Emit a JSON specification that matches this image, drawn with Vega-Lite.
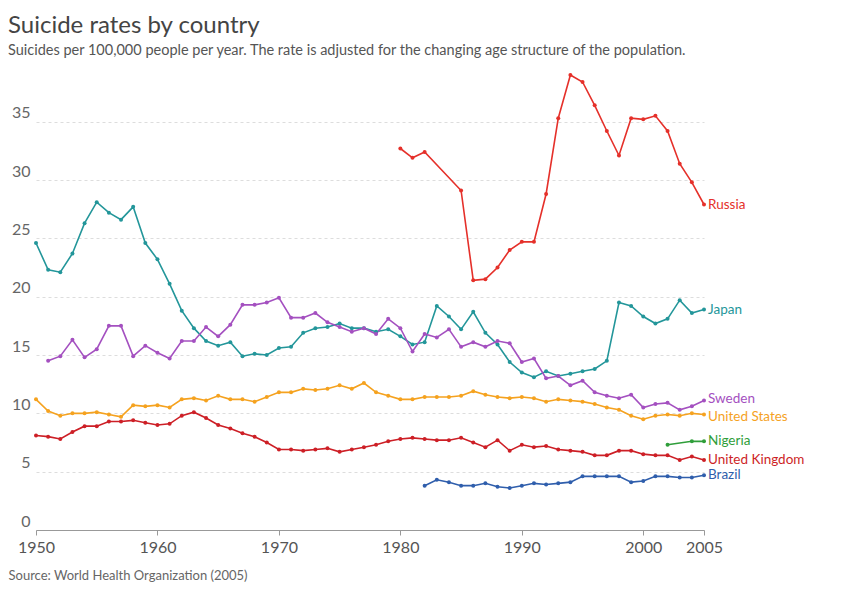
{
"$schema":"https://vega.github.io/schema/vega-lite/v6.json",
"width":668,"height":455,
"padding":{"left":8,"top":14,"right":10,"bottom":2},
"background":"white",
"config":{"font":"Lato","view":{"stroke":null}},
"title":{"text":"Suicide rates by country","subtitle":"Suicides per 100,000 people per year. The rate is adjusted for the changing age structure of the population.","anchor":"start","frame":"group","offset":14,"fontSize":24,"fontWeight":"normal","color":"#444","subtitleFontSize":14.5,"subtitleColor":"#555","subtitlePadding":6,"font":"Lato","subtitleFont":"Lato","dx":-28},
"data":{"values":[
{"c":"Japan","y":1950,"v":24.6},{"c":"Japan","y":1951,"v":22.3},{"c":"Japan","y":1952,"v":22.1},{"c":"Japan","y":1953,"v":23.7},{"c":"Japan","y":1954,"v":26.3},{"c":"Japan","y":1955,"v":28.1},{"c":"Japan","y":1956,"v":27.2},{"c":"Japan","y":1957,"v":26.6},{"c":"Japan","y":1958,"v":27.7},{"c":"Japan","y":1959,"v":24.6},{"c":"Japan","y":1960,"v":23.2},{"c":"Japan","y":1961,"v":21.1},{"c":"Japan","y":1962,"v":18.8},{"c":"Japan","y":1963,"v":17.3},{"c":"Japan","y":1964,"v":16.2},{"c":"Japan","y":1965,"v":15.8},{"c":"Japan","y":1966,"v":16.1},{"c":"Japan","y":1967,"v":14.9},{"c":"Japan","y":1968,"v":15.1},{"c":"Japan","y":1969,"v":15.0},{"c":"Japan","y":1970,"v":15.6},{"c":"Japan","y":1971,"v":15.7},{"c":"Japan","y":1972,"v":16.9},{"c":"Japan","y":1973,"v":17.3},{"c":"Japan","y":1974,"v":17.4},{"c":"Japan","y":1975,"v":17.7},{"c":"Japan","y":1976,"v":17.3},{"c":"Japan","y":1977,"v":17.3},{"c":"Japan","y":1978,"v":17.0},{"c":"Japan","y":1979,"v":17.2},{"c":"Japan","y":1980,"v":16.6},{"c":"Japan","y":1981,"v":15.9},{"c":"Japan","y":1982,"v":16.1},{"c":"Japan","y":1983,"v":19.2},{"c":"Japan","y":1984,"v":18.3},{"c":"Japan","y":1985,"v":17.2},{"c":"Japan","y":1986,"v":18.7},{"c":"Japan","y":1987,"v":16.9},{"c":"Japan","y":1988,"v":15.9},{"c":"Japan","y":1989,"v":14.4},{"c":"Japan","y":1990,"v":13.5},{"c":"Japan","y":1991,"v":13.1},{"c":"Japan","y":1992,"v":13.6},{"c":"Japan","y":1993,"v":13.2},{"c":"Japan","y":1994,"v":13.4},{"c":"Japan","y":1995,"v":13.6},{"c":"Japan","y":1996,"v":13.8},{"c":"Japan","y":1997,"v":14.5},{"c":"Japan","y":1998,"v":19.5},{"c":"Japan","y":1999,"v":19.2},{"c":"Japan","y":2000,"v":18.3},{"c":"Japan","y":2001,"v":17.7},{"c":"Japan","y":2002,"v":18.1},{"c":"Japan","y":2003,"v":19.7},{"c":"Japan","y":2004,"v":18.6},{"c":"Japan","y":2005,"v":18.9},
{"c":"Russia","y":1980,"v":32.7},{"c":"Russia","y":1981,"v":31.9},{"c":"Russia","y":1982,"v":32.4},{"c":"Russia","y":1985,"v":29.1},{"c":"Russia","y":1986,"v":21.4},{"c":"Russia","y":1987,"v":21.5},{"c":"Russia","y":1988,"v":22.5},{"c":"Russia","y":1989,"v":24.0},{"c":"Russia","y":1990,"v":24.7},{"c":"Russia","y":1991,"v":24.7},{"c":"Russia","y":1992,"v":28.8},{"c":"Russia","y":1993,"v":35.3},{"c":"Russia","y":1994,"v":39.0},{"c":"Russia","y":1995,"v":38.4},{"c":"Russia","y":1996,"v":36.4},{"c":"Russia","y":1997,"v":34.2},{"c":"Russia","y":1998,"v":32.1},{"c":"Russia","y":1999,"v":35.3},{"c":"Russia","y":2000,"v":35.2},{"c":"Russia","y":2001,"v":35.5},{"c":"Russia","y":2002,"v":34.2},{"c":"Russia","y":2003,"v":31.4},{"c":"Russia","y":2004,"v":29.8},{"c":"Russia","y":2005,"v":27.9},
{"c":"Sweden","y":1951,"v":14.5},{"c":"Sweden","y":1952,"v":14.9},{"c":"Sweden","y":1953,"v":16.3},{"c":"Sweden","y":1954,"v":14.8},{"c":"Sweden","y":1955,"v":15.5},{"c":"Sweden","y":1956,"v":17.5},{"c":"Sweden","y":1957,"v":17.5},{"c":"Sweden","y":1958,"v":14.9},{"c":"Sweden","y":1959,"v":15.8},{"c":"Sweden","y":1960,"v":15.2},{"c":"Sweden","y":1961,"v":14.7},{"c":"Sweden","y":1962,"v":16.2},{"c":"Sweden","y":1963,"v":16.2},{"c":"Sweden","y":1964,"v":17.4},{"c":"Sweden","y":1965,"v":16.6},{"c":"Sweden","y":1966,"v":17.6},{"c":"Sweden","y":1967,"v":19.3},{"c":"Sweden","y":1968,"v":19.3},{"c":"Sweden","y":1969,"v":19.5},{"c":"Sweden","y":1970,"v":19.9},{"c":"Sweden","y":1971,"v":18.2},{"c":"Sweden","y":1972,"v":18.2},{"c":"Sweden","y":1973,"v":18.6},{"c":"Sweden","y":1974,"v":17.8},{"c":"Sweden","y":1975,"v":17.4},{"c":"Sweden","y":1976,"v":17.0},{"c":"Sweden","y":1977,"v":17.3},{"c":"Sweden","y":1978,"v":16.8},{"c":"Sweden","y":1979,"v":18.1},{"c":"Sweden","y":1980,"v":17.3},{"c":"Sweden","y":1981,"v":15.3},{"c":"Sweden","y":1982,"v":16.8},{"c":"Sweden","y":1983,"v":16.5},{"c":"Sweden","y":1984,"v":17.2},{"c":"Sweden","y":1985,"v":15.7},{"c":"Sweden","y":1986,"v":16.1},{"c":"Sweden","y":1987,"v":15.7},{"c":"Sweden","y":1988,"v":16.2},{"c":"Sweden","y":1989,"v":16.0},{"c":"Sweden","y":1990,"v":14.4},{"c":"Sweden","y":1991,"v":14.7},{"c":"Sweden","y":1992,"v":13.0},{"c":"Sweden","y":1993,"v":13.2},{"c":"Sweden","y":1994,"v":12.4},{"c":"Sweden","y":1995,"v":12.8},{"c":"Sweden","y":1996,"v":11.8},{"c":"Sweden","y":1997,"v":11.5},{"c":"Sweden","y":1998,"v":11.3},{"c":"Sweden","y":1999,"v":11.6},{"c":"Sweden","y":2000,"v":10.5},{"c":"Sweden","y":2001,"v":10.8},{"c":"Sweden","y":2002,"v":10.9},{"c":"Sweden","y":2003,"v":10.3},{"c":"Sweden","y":2004,"v":10.6},{"c":"Sweden","y":2005,"v":11.1},
{"c":"United States","y":1950,"v":11.2},{"c":"United States","y":1951,"v":10.2},{"c":"United States","y":1952,"v":9.8},{"c":"United States","y":1953,"v":10.0},{"c":"United States","y":1954,"v":10.0},{"c":"United States","y":1955,"v":10.1},{"c":"United States","y":1956,"v":9.9},{"c":"United States","y":1957,"v":9.7},{"c":"United States","y":1958,"v":10.7},{"c":"United States","y":1959,"v":10.6},{"c":"United States","y":1960,"v":10.7},{"c":"United States","y":1961,"v":10.5},{"c":"United States","y":1962,"v":11.2},{"c":"United States","y":1963,"v":11.3},{"c":"United States","y":1964,"v":11.1},{"c":"United States","y":1965,"v":11.5},{"c":"United States","y":1966,"v":11.2},{"c":"United States","y":1967,"v":11.2},{"c":"United States","y":1968,"v":11.0},{"c":"United States","y":1969,"v":11.4},{"c":"United States","y":1970,"v":11.8},{"c":"United States","y":1971,"v":11.8},{"c":"United States","y":1972,"v":12.1},{"c":"United States","y":1973,"v":12.0},{"c":"United States","y":1974,"v":12.1},{"c":"United States","y":1975,"v":12.4},{"c":"United States","y":1976,"v":12.1},{"c":"United States","y":1977,"v":12.6},{"c":"United States","y":1978,"v":11.8},{"c":"United States","y":1979,"v":11.5},{"c":"United States","y":1980,"v":11.2},{"c":"United States","y":1981,"v":11.2},{"c":"United States","y":1982,"v":11.4},{"c":"United States","y":1983,"v":11.4},{"c":"United States","y":1984,"v":11.4},{"c":"United States","y":1985,"v":11.5},{"c":"United States","y":1986,"v":11.9},{"c":"United States","y":1987,"v":11.6},{"c":"United States","y":1988,"v":11.4},{"c":"United States","y":1989,"v":11.3},{"c":"United States","y":1990,"v":11.4},{"c":"United States","y":1991,"v":11.3},{"c":"United States","y":1992,"v":11.0},{"c":"United States","y":1993,"v":11.2},{"c":"United States","y":1994,"v":11.1},{"c":"United States","y":1995,"v":11.0},{"c":"United States","y":1996,"v":10.8},{"c":"United States","y":1997,"v":10.5},{"c":"United States","y":1998,"v":10.3},{"c":"United States","y":1999,"v":9.8},{"c":"United States","y":2000,"v":9.5},{"c":"United States","y":2001,"v":9.8},{"c":"United States","y":2002,"v":9.9},{"c":"United States","y":2003,"v":9.8},{"c":"United States","y":2004,"v":10.0},{"c":"United States","y":2005,"v":9.9},
{"c":"United Kingdom","y":1950,"v":8.1},{"c":"United Kingdom","y":1951,"v":8.0},{"c":"United Kingdom","y":1952,"v":7.8},{"c":"United Kingdom","y":1953,"v":8.4},{"c":"United Kingdom","y":1954,"v":8.9},{"c":"United Kingdom","y":1955,"v":8.9},{"c":"United Kingdom","y":1956,"v":9.3},{"c":"United Kingdom","y":1957,"v":9.3},{"c":"United Kingdom","y":1958,"v":9.4},{"c":"United Kingdom","y":1959,"v":9.2},{"c":"United Kingdom","y":1960,"v":9.0},{"c":"United Kingdom","y":1961,"v":9.1},{"c":"United Kingdom","y":1962,"v":9.8},{"c":"United Kingdom","y":1963,"v":10.1},{"c":"United Kingdom","y":1964,"v":9.6},{"c":"United Kingdom","y":1965,"v":9.0},{"c":"United Kingdom","y":1966,"v":8.7},{"c":"United Kingdom","y":1967,"v":8.3},{"c":"United Kingdom","y":1968,"v":8.0},{"c":"United Kingdom","y":1969,"v":7.5},{"c":"United Kingdom","y":1970,"v":6.9},{"c":"United Kingdom","y":1971,"v":6.9},{"c":"United Kingdom","y":1972,"v":6.8},{"c":"United Kingdom","y":1973,"v":6.9},{"c":"United Kingdom","y":1974,"v":7.0},{"c":"United Kingdom","y":1975,"v":6.7},{"c":"United Kingdom","y":1976,"v":6.9},{"c":"United Kingdom","y":1977,"v":7.1},{"c":"United Kingdom","y":1978,"v":7.3},{"c":"United Kingdom","y":1979,"v":7.6},{"c":"United Kingdom","y":1980,"v":7.8},{"c":"United Kingdom","y":1981,"v":7.9},{"c":"United Kingdom","y":1982,"v":7.8},{"c":"United Kingdom","y":1983,"v":7.7},{"c":"United Kingdom","y":1984,"v":7.7},{"c":"United Kingdom","y":1985,"v":7.9},{"c":"United Kingdom","y":1986,"v":7.5},{"c":"United Kingdom","y":1987,"v":7.1},{"c":"United Kingdom","y":1988,"v":7.7},{"c":"United Kingdom","y":1989,"v":6.8},{"c":"United Kingdom","y":1990,"v":7.3},{"c":"United Kingdom","y":1991,"v":7.1},{"c":"United Kingdom","y":1992,"v":7.2},{"c":"United Kingdom","y":1993,"v":6.9},{"c":"United Kingdom","y":1994,"v":6.8},{"c":"United Kingdom","y":1995,"v":6.7},{"c":"United Kingdom","y":1996,"v":6.4},{"c":"United Kingdom","y":1997,"v":6.4},{"c":"United Kingdom","y":1998,"v":6.8},{"c":"United Kingdom","y":1999,"v":6.8},{"c":"United Kingdom","y":2000,"v":6.5},{"c":"United Kingdom","y":2001,"v":6.4},{"c":"United Kingdom","y":2002,"v":6.4},{"c":"United Kingdom","y":2003,"v":6.0},{"c":"United Kingdom","y":2004,"v":6.3},{"c":"United Kingdom","y":2005,"v":6.0},
{"c":"Nigeria","y":2002,"v":7.3},{"c":"Nigeria","y":2004,"v":7.6},{"c":"Nigeria","y":2005,"v":7.6},
{"c":"Brazil","y":1982,"v":3.8},{"c":"Brazil","y":1983,"v":4.3},{"c":"Brazil","y":1984,"v":4.1},{"c":"Brazil","y":1985,"v":3.8},{"c":"Brazil","y":1986,"v":3.8},{"c":"Brazil","y":1987,"v":4.0},{"c":"Brazil","y":1988,"v":3.7},{"c":"Brazil","y":1989,"v":3.6},{"c":"Brazil","y":1990,"v":3.8},{"c":"Brazil","y":1991,"v":4.0},{"c":"Brazil","y":1992,"v":3.9},{"c":"Brazil","y":1993,"v":4.0},{"c":"Brazil","y":1994,"v":4.1},{"c":"Brazil","y":1995,"v":4.6},{"c":"Brazil","y":1996,"v":4.6},{"c":"Brazil","y":1997,"v":4.6},{"c":"Brazil","y":1998,"v":4.6},{"c":"Brazil","y":1999,"v":4.1},{"c":"Brazil","y":2000,"v":4.2},{"c":"Brazil","y":2001,"v":4.6},{"c":"Brazil","y":2002,"v":4.6},{"c":"Brazil","y":2003,"v":4.5},{"c":"Brazil","y":2004,"v":4.5},{"c":"Brazil","y":2005,"v":4.7}
]},
"encoding":{
"x":{"field":"y","type":"quantitative","scale":{"domain":[1950,2005],"nice":false,"zero":false},
 "axis":{"values":[1950,1960,1970,1980,1990,2000,2005],"format":"d","grid":false,"domainColor":"#999","tickColor":"#999","tickSize":5,"labelFontSize":16,"labelColor":"#555","labelPadding":4,"labelFlush":false,
  "title":"Source: World Health Organization (2005)","titleAnchor":"start","titleAlign":"left","titleFontSize":13,"titleFontWeight":"normal","titleColor":"#666","titlePadding":14,"titleX":-28}},
"y":{"field":"v","type":"quantitative","scale":{"domain":[0,39],"nice":false},
 "axis":{"values":[0,5,10,15,20,25,30,35],"title":null,"domain":false,"ticks":false,"gridDash":[3,3],"gridColor":"#ddd","labelFontSize":16,"labelColor":"#666","labelPadding":6,"labelBaseline":"alphabetic","labelOffset":-4}},
"color":{"field":"c","type":"nominal","legend":null,
 "scale":{"domain":["Russia","Japan","Sweden","United States","Nigeria","United Kingdom","Brazil"],"range":["#e5302a","#23969a","#a450c0","#f5a21f","#2f9e3a","#cd1f26","#2f5eac"]}}
},
"layer":[
{"mark":{"type":"line","strokeWidth":1.6,"point":{"filled":true,"size":16}},"encoding":{"detail":{"field":"c"}}},
{"transform":[{"filter":"datum.y==2005 && datum.c!='Sweden' && datum.c!='United States'"}],"mark":{"type":"text","align":"left","dx":4,"fontSize":13.5,"font":"Lato"},"encoding":{"text":{"field":"c"}}},
{"transform":[{"filter":"datum.y==2005 && datum.c=='Sweden'"}],"mark":{"type":"text","align":"left","dx":4,"dy":-2,"fontSize":13.5,"font":"Lato"},"encoding":{"text":{"field":"c"}}},
{"transform":[{"filter":"datum.y==2005 && datum.c=='United States'"}],"mark":{"type":"text","align":"left","dx":4,"dy":2,"fontSize":13.5,"font":"Lato"},"encoding":{"text":{"field":"c"}}}
]
}
